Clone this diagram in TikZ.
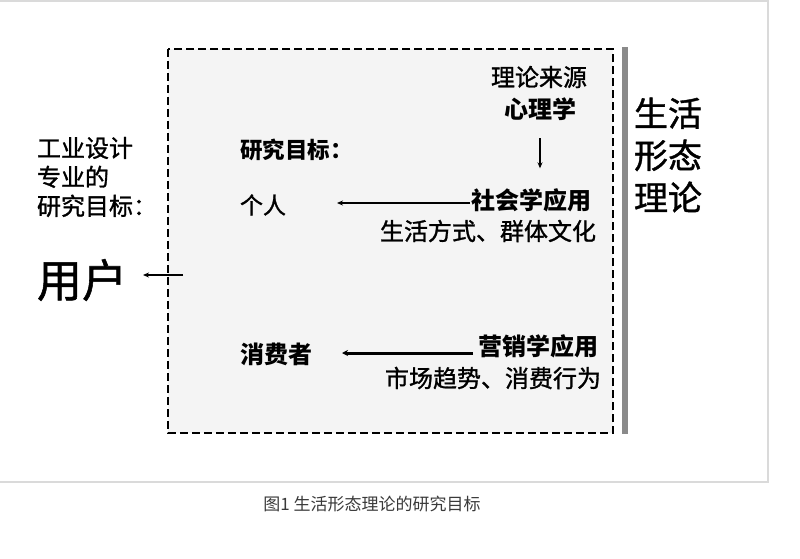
\documentclass[tikz,border=0pt]{standalone}
\usepackage{fontspec}
\setmainfont{Noto Sans CJK SC}
\newfontfamily\medfont{Noto Sans CJK SC}[FakeBold=1.2]
\usetikzlibrary{arrows.meta}
\definecolor{framegray}{HTML}{DADADA}
\definecolor{boxfill}{HTML}{F4F4F4}
\definecolor{bargray}{HTML}{8A8A8A}
\definecolor{capgray}{HTML}{3A3A3A}
\tikzset{
  txt/.style={inner sep=0pt, outer sep=0pt, text=black},
  s24/.style={font=\medfont\fontsize{24}{24}\selectfont},
  b24/.style={font=\fontsize{24}{24}\selectfont\bfseries},
  b22/.style={font=\fontsize{22.5}{22.5}\selectfont\bfseries},
  r22/.style={font=\medfont\fontsize{23}{23}\selectfont},
  thinarrow/.style={draw=black, line width=1.3pt, -{Stealth[length=6pt,width=5pt]}},
  thickarrow/.style={draw=black, line width=3pt, -{Stealth[length=6pt,width=6pt]}},
}
\begin{document}
\begin{tikzpicture}[x=1pt,y=-1pt]
\useasboundingbox (0,0) rectangle (800,559);
\fill[white] (0,0) rectangle (800,559);
% outer frame
\draw[framegray, line width=1.5pt] (0,1) -- (768,1) -- (768,482) -- (0,482);
% dashed box
\draw[black, line width=1.2pt, dash pattern=on 8pt off 4pt, fill=boxfill] (168,49) rectangle (613,433);
% gray bar
\fill[bargray] (622,47) rectangle (628,434);

% texts inside box
\node[txt, s24] (src) at (539,77) {理论来源};
\node[txt, b24] (psy) at (540,109) {心理学};
\node[txt, b22, anchor=west] (goal) at (240,150) {研究目标：};
\node[txt, r22, anchor=west] (ind) at (240,205) {个人};
\node[txt, b24, anchor=east] (soc) at (591,200) {社会学应用};
\node[txt, s24, anchor=east] (socd) at (596,231) {生活方式、群体文化};
\node[txt, b24, anchor=west] (con) at (240,354) {消费者};
\node[txt, b24, anchor=east] (mkt) at (598,346) {营销学应用};
\node[txt, s24, anchor=east] (mktd) at (601,378) {市场趋势、消费行为};

% right label
\node[txt, anchor=west, align=left, font=\medfont\fontsize{34}{42}\selectfont] (life) at (634,155) {生活\\形态\\理论};

% left labels
\node[txt, anchor=west, align=left, font=\medfont\fontsize{24}{29}\selectfont] (ind0) at (37,177) {工业设计\\专业的\\研究目标：};
\node[txt, anchor=west, font=\medfont\fontsize{45}{45}\selectfont] (user) at (37,280) {用户};
\coordinate (ustart) at (183,275);

% arrows
\draw[thinarrow, shorten <=18pt, shorten >=20pt] (psy.south) -- (psy.south |- soc.north);
\draw[thinarrow, shorten >=51pt] ([yshift=-3pt,xshift=-1pt]soc.west) -- ([yshift=-3pt]soc.west -| ind.east);
\draw[thickarrow, shorten >=30pt] ([yshift=-7pt,xshift=-5pt]mkt.west) -- ([yshift=-7pt]mkt.west -| con.east);
\draw[thinarrow] (ustart) -- ([xshift=16pt]user.east |- ustart);

% caption
\node[txt, text=capgray, font=\fontsize{17}{17}\selectfont] (cap) at (372,504) {图1\ 生活形态理论的研究目标};
\end{tikzpicture}
\end{document}
